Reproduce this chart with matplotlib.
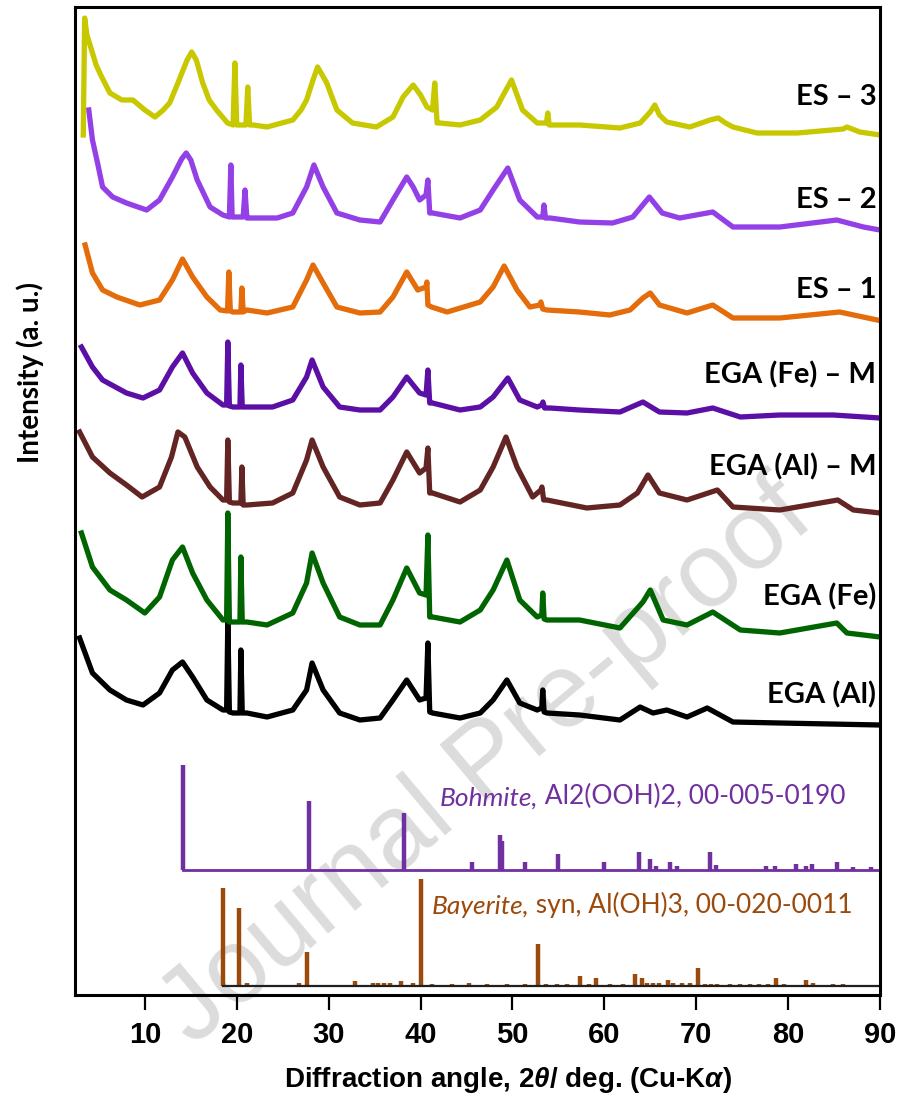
import matplotlib.pyplot as plt

plt.rcParams['mathtext.fontset'] = 'custom'
plt.rcParams['mathtext.rm'] = 'Liberation Sans:bold'
plt.rcParams['mathtext.it'] = 'Liberation Sans:italic:bold'

# XRD patterns: (2theta, intensity a.u., already stacked)
es3 = [(3.3, 860), (3.45, 977), (3.7, 960), (4.2, 945), (4.7, 930), (5.2, 920), (6.2, 902), (7.5, 895),
       (8.7, 895), (10.0, 885), (11.1, 878), (12.0, 885), (12.7, 892), (13.6, 912), (14.6, 935),
       (15.1, 943), (15.6, 935), (16.3, 912), (17.0, 895), (17.8, 885), (19.0, 872), (19.6, 870),
       (19.8, 932), (20.0, 870), (20.6, 870), (21.0, 870), (21.2, 908), (21.4, 870), (21.8, 870),
       (23.3, 868), (26.1, 875), (27.0, 885), (27.6, 895), (28.3, 915), (28.8, 928), (29.3, 920),
       (29.8, 912), (30.9, 885), (32.6, 872), (35.2, 868), (37.0, 878), (38.1, 898), (39.2, 910),
       (40.0, 900), (40.7, 888), (41.3, 885), (41.55, 912), (41.8, 872), (42.1, 872), (44.3, 870),
       (46.5, 875), (48.3, 888), (49.3, 905), (49.9, 915), (50.5, 900), (51.1, 885), (52.7, 872),
       (53.7, 872), (53.85, 882), (54.0, 870), (54.4, 870), (57.3, 870), (61.7, 867), (63.9, 872),
       (65.0, 883), (65.5, 890), (66.0, 880), (66.8, 873), (69.3, 868), (71.5, 875), (72.4, 877),
       (73.2, 872), (74.0, 868), (76.6, 862), (81.0, 862), (86.0, 866), (86.4, 868), (87.8, 863),
       (90.0, 860)]

es2 = [(3.9, 885), (4.3, 855), (4.9, 830), (5.4, 808), (6.5, 798), (8.0, 792), (10.2, 785),
       (11.6, 795), (13.0, 818), (14.0, 836), (14.5, 842), (15.0, 835), (15.7, 815), (17.1, 788),
       (18.5, 780), (19.2, 778), (19.36, 830), (19.5, 778), (20.0, 778), (20.7, 778), (20.9, 805),
       (21.1, 777), (21.4, 777), (24.4, 777), (26.1, 782), (27.6, 808), (28.4, 830), (29.4, 808),
       (30.9, 782), (33.4, 775), (35.6, 773), (37.0, 795), (38.5, 818), (39.2, 808), (39.9, 795),
       (40.6, 800), (40.8, 815), (41.0, 782), (41.3, 782), (44.3, 777), (46.5, 785), (47.9, 805),
       (49.5, 827), (50.8, 795), (52.7, 778), (53.3, 778), (53.43, 790), (53.6, 777), (54.1, 777),
       (57.3, 773), (60.9, 772), (63.1, 778), (64.9, 798), (66.3, 782), (68.2, 777), (71.8, 783),
       (74.0, 768), (79.1, 768), (85.3, 775), (88.2, 768), (90.0, 765)]

es1 = [(3.5, 750), (4.3, 722), (5.4, 705), (6.95, 698), (9.45, 690), (11.6, 695), (13.0, 715),
       (14.1, 736), (15.2, 718), (16.75, 698), (18.2, 685), (19.0, 684), (19.14, 723), (19.3, 684),
       (19.6, 683), (20.45, 683), (20.56, 707), (20.7, 683), (21.1, 685), (23.3, 682), (26.1, 688),
       (27.6, 715), (28.3, 730), (29.4, 712), (30.9, 688), (33.4, 682), (35.6, 683), (37.0, 698),
       (38.5, 723), (39.7, 705), (40.6, 708), (40.69, 713), (40.8, 690), (41.2, 688), (42.9, 683),
       (46.5, 693), (47.9, 708), (49.1, 729), (50.5, 705), (51.9, 688), (53.0, 690), (53.1, 693),
       (53.3, 686), (53.75, 685), (57.3, 683), (60.6, 680), (62.8, 685), (64.2, 697), (65.0, 702),
       (66.0, 690), (69.0, 682), (71.8, 690), (74.0, 677), (79.1, 677), (85.6, 683), (89.7, 675)]

ega_fe_m = [(3.1, 648), (4.3, 628), (5.4, 615), (8.0, 602), (9.8, 597), (11.6, 605), (13.0, 628),
            (14.1, 642), (15.2, 622), (16.75, 602), (18.5, 590), (18.9, 590), (19.03, 653),
            (19.2, 589), (19.6, 588), (20.35, 588), (20.45, 630), (20.6, 588), (21.1, 588),
            (23.9, 588), (26.1, 595), (27.6, 618), (28.2, 635), (29.4, 608), (31.2, 588),
            (33.4, 585), (35.6, 585), (37.0, 598), (38.5, 618), (39.9, 602), (40.6, 600),
            (40.8, 625), (41.0, 592), (41.3, 592), (44.3, 585), (46.5, 588), (47.9, 598),
            (49.5, 617), (50.8, 595), (52.7, 588), (53.2, 590), (53.32, 593), (53.5, 587),
            (54.1, 587), (57.3, 585), (61.7, 583), (64.2, 593), (66.0, 583), (69.0, 582),
            (71.8, 587), (74.8, 578), (79.1, 580), (84.9, 580), (90.0, 577)]

ega_al_m = [(2.9, 563), (4.3, 538), (6.2, 522), (8.0, 510), (9.7, 498), (11.6, 508), (12.9, 538),
            (13.6, 563), (14.35, 558), (15.7, 528), (17.1, 508), (18.5, 495), (18.9, 495),
            (19.03, 555), (19.2, 493), (19.6, 492), (20.45, 492), (20.56, 528), (20.7, 490),
            (21.1, 490), (23.9, 492), (26.1, 502), (27.6, 535), (28.2, 555), (29.4, 528),
            (31.2, 498), (33.4, 490), (35.6, 492), (37.0, 515), (38.5, 543), (39.9, 522),
            (40.6, 527), (40.8, 547), (41.0, 502), (41.3, 502), (44.3, 493), (46.5, 505),
            (47.9, 528), (49.3, 558), (50.5, 528), (52.2, 498), (53.1, 505), (53.21, 508),
            (53.4, 495), (53.75, 495), (58.1, 487), (61.7, 490), (63.6, 502), (64.75, 520),
            (66.0, 502), (69.0, 495), (72.3, 505), (74.0, 488), (79.1, 485), (85.4, 495),
            (87.1, 485), (90.0, 482)]

ega_fe = [(3.1, 462), (4.3, 428), (6.2, 405), (8.0, 395), (10.0, 382), (11.6, 398), (13.0, 435),
          (14.1, 448), (15.2, 422), (16.75, 395), (18.5, 375), (18.9, 375), (19.03, 482),
          (19.2, 373), (19.6, 373), (20.35, 373), (20.45, 438), (20.6, 373), (21.1, 373),
          (23.3, 370), (26.1, 382), (27.6, 412), (28.2, 442), (29.4, 412), (31.2, 378),
          (33.4, 370), (35.6, 370), (37.0, 395), (38.5, 427), (39.9, 402), (40.6, 400),
          (40.8, 460), (41.0, 378), (41.3, 378), (44.3, 373), (46.5, 385), (47.9, 405),
          (49.4, 435), (50.8, 395), (52.7, 378), (53.2, 380), (53.3, 402), (53.45, 376),
          (53.75, 375), (57.3, 375), (61.7, 367), (64.2, 393), (65.0, 405), (66.4, 375),
          (69.0, 370), (71.8, 383), (74.8, 365), (79.1, 362), (85.3, 372), (86.4, 362),
          (90.0, 358)]

ega_al = [(2.9, 357), (4.3, 322), (6.2, 305), (8.0, 295), (9.8, 290), (11.6, 302), (13.0, 325),
          (14.1, 333), (15.2, 318), (16.75, 295), (18.5, 285), (18.9, 285), (19.03, 375),
          (19.2, 283), (19.6, 282), (20.35, 282), (20.45, 345), (20.6, 282), (21.1, 282),
          (23.3, 278), (26.1, 285), (27.6, 305), (28.2, 332), (29.4, 305), (31.2, 282),
          (33.4, 275), (35.6, 277), (37.0, 295), (38.5, 315), (39.9, 295), (40.6, 297),
          (40.8, 352), (41.0, 283), (41.3, 282), (44.3, 277), (46.5, 282), (47.9, 295),
          (49.4, 315), (50.8, 292), (52.7, 285), (53.2, 287), (53.3, 305), (53.45, 283),
          (53.75, 282), (57.3, 280), (61.7, 275), (63.9, 288), (65.3, 282), (66.8, 285),
          (69.0, 278), (71.2, 287), (74.0, 273), (79.1, 272), (90.0, 270)]

sample_names = ['EGA (Al)', 'EGA (Fe)', 'EGA (Al) – M', 'EGA (Fe) – M', 'ES – 1', 'ES – 2', 'ES – 3']
sample_data = [ega_al, ega_fe, ega_al_m, ega_fe_m, es1, es2, es3]
sample_colors = ['black', '#006400', '#632523', '#5B0FA5', '#E46C0A', '#9340E6', '#C8C800']
label_y = [300, 398, 528, 620, 705, 795, 898]

# reference cards (stick patterns)
boh_pos = [14.1, 27.9, 38.2, 45.6, 48.6, 48.9, 51.4, 55.0, 60.0, 63.8, 65.0, 65.6, 67.1, 67.9,
           71.5, 72.2, 77.6, 78.6, 80.9, 81.9, 82.6, 85.3, 87.1, 89.0]
boh_int = [105, 69, 57, 8, 35, 29, 8, 16, 8, 18, 11, 4, 8, 4, 18, 5, 4, 4, 6, 4, 6, 8, 3, 3]
bay_pos = [18.5, 20.2, 21.1, 26.8, 27.7, 32.9, 34.8, 35.4, 36.0, 36.7, 37.9, 39.2, 40.1, 41.2,
           43.4, 45.3, 47.2, 49.4, 51.4, 52.8, 53.7, 54.8, 55.9, 57.3, 58.3, 59.1, 60.6, 62.0,
           63.3, 64.1, 64.6, 65.3, 66.0, 66.9, 67.5, 68.4, 69.3, 70.2, 71.0, 71.6, 72.3, 73.7,
           74.8, 75.8, 76.8, 77.8, 78.7, 79.5, 82.0, 82.7, 84.9, 86.0]
bay_int = [98, 78, 3, 3, 34, 5, 3, 3, 3, 3, 5, 3, 107, 2, 2, 3, 2, 2, 2, 42, 2, 2, 2, 10, 2, 8,
           2, 2, 12, 8, 3, 3, 3, 6, 3, 3, 3, 18, 2, 2, 2, 2, 2, 2, 2, 2, 8, 2, 6, 3, 2, 2]
boh_base = 125
bay_base = 9

boh_color = '#7030A0'
bay_color = '#9C4A0C'

fig = plt.figure(figsize=(9.03, 11.08), dpi=100)
ax = fig.add_axes([75 / 903, 1 - 995 / 1108, 805 / 903, 988 / 1108])
ax.patch.set_alpha(0)

for name, data, color, ly in zip(sample_names, sample_data, sample_colors, label_y):
    xs = [p[0] for p in data]
    ys = [p[1] for p in data]
    ax.plot(xs, ys, color=color, lw=3.8, solid_joinstyle='round')
    ax.text(89.6, ly, name, ha='right', va='center', fontsize=21,
            fontweight='bold', family='Lato')

# Bohmite
ax.vlines(boh_pos, boh_base, [boh_base + h for h in boh_int], color=boh_color, lw=3.2)
ax.plot([boh_pos[0], 90], [boh_base, boh_base], color=boh_color, lw=2)
t1 = ax.text(42.1, 197, 'Bohmite,', color=boh_color, fontsize=19, family='Lato',
             style='italic', va='center')
ax.annotate(' Al2(OOH)2, 00-005-0190', xy=(1, 0), xycoords=t1, va='bottom',
            color=boh_color, fontsize=19, family='Lato')

# Bayerite
ax.vlines(bay_pos, bay_base, [bay_base + h for h in bay_int], color=bay_color, lw=3.2)
ax.plot([bay_pos[0], 90], [bay_base, bay_base], color='#202020', lw=1.6)
t2 = ax.text(41.2, 88, 'Bayerite,', color=bay_color, fontsize=19, family='Lato',
             style='italic', va='center')
ax.annotate(' syn, Al(OH)3, 00-020-0011', xy=(1, 0), xycoords=t2, va='bottom',
            color=bay_color, fontsize=19, family='Lato')

ax.set_xlim(2.4, 90)
ax.set_ylim(0, 988)
ax.set_xticks(range(10, 91, 10))
ax.set_yticks([])
ax.tick_params(axis='x', direction='out', length=11, width=1.6, pad=8, labelsize=21)
for lab in ax.get_xticklabels():
    lab.set_fontweight('bold')
    lab.set_family('Liberation Sans')
for sp in ax.spines.values():
    sp.set_linewidth(2.2)
    sp.set_color('black')

ax.set_xlabel(r'Diffraction angle, 2$\it{\theta}$/ deg. (Cu-K$\alpha$)', fontsize=20,
              fontweight='bold', family='Liberation Sans')
ax.xaxis.set_label_coords(0.538, -0.086)
ax.xaxis.label.set_va('center')
ax.set_ylabel('Intensity (a. u.)', fontsize=20, fontweight='bold', family='Lato')
ax.yaxis.set_label_coords(-0.056, 0.63)
ax.yaxis.label.set_va('center')

# watermark
fig.text(0.54, 0.31, 'Journal Pre-proof', rotation=40, fontsize=76, color='#DCDCDC',
         ha='center', va='center', family='Liberation Sans', zorder=-1)

fig.savefig('out.png', dpi=100)
